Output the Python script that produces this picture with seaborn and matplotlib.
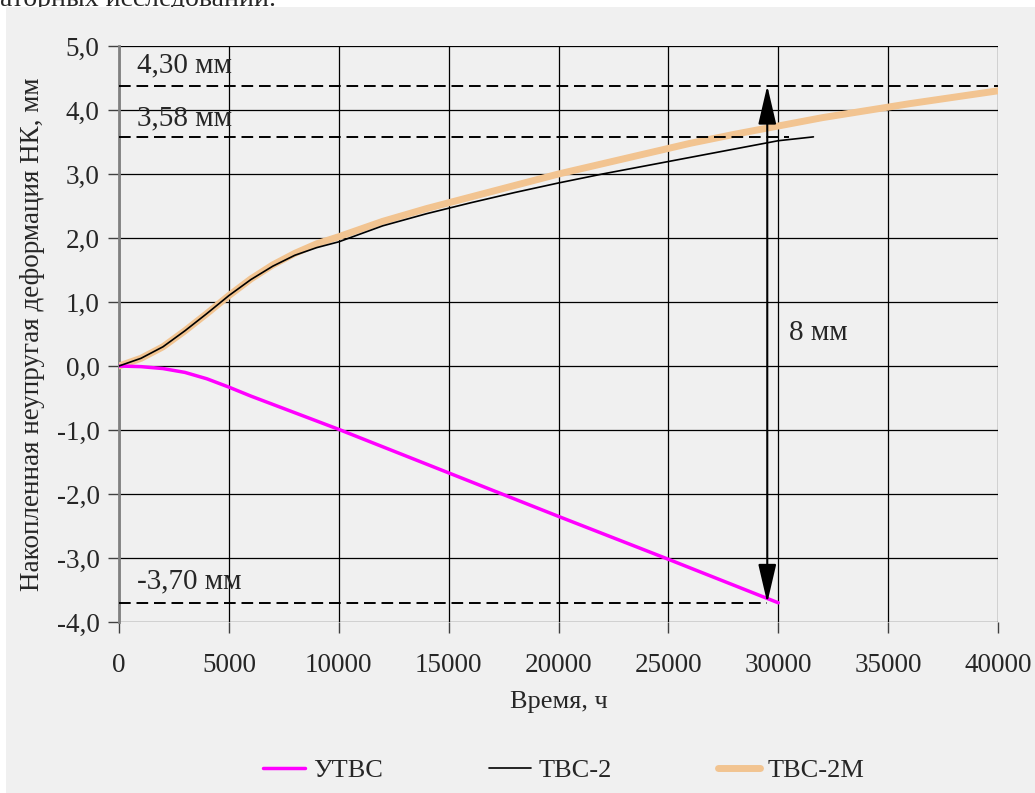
import matplotlib
matplotlib.use("Agg")
import matplotlib.pyplot as plt
import matplotlib.patches as mpatches
import matplotlib.ticker as mticker
import pandas as pd
import seaborn as sns

# ТВС-2М
t_2m = [0, 1000, 2000, 3000, 4000, 5000, 6000, 7000, 8000, 9000, 10000, 12000, 14000,
        16000, 18000, 20000, 22000, 24000, 26000, 28000, 30000, 32000, 34000, 36000,
        38000, 40000]
d_2m = [0, 0.12, 0.30, 0.55, 0.82, 1.10, 1.36, 1.58, 1.76, 1.91, 2.02, 2.26, 2.46,
        2.64, 2.82, 3.00, 3.16, 3.32, 3.48, 3.62, 3.75, 3.88, 3.99, 4.10, 4.20, 4.30]

# ТВС-2
t_2 = [0, 1000, 2000, 3000, 4000, 5000, 6000, 7000, 8000, 9000, 10000, 12000, 14000,
       16000, 18000, 20000, 22000, 24000, 26000, 28000, 30000, 31600]
d_2 = [0, 0.12, 0.30, 0.55, 0.82, 1.10, 1.35, 1.56, 1.73, 1.85, 1.94, 2.19, 2.38,
       2.55, 2.71, 2.86, 3.00, 3.13, 3.26, 3.39, 3.52, 3.58]

# УТВС
t_u = [0, 1000, 2000, 3000, 4000, 5000, 6000, 8000, 10000, 15000, 20000, 25000, 30000]
d_u = [0, -0.01, -0.04, -0.10, -0.20, -0.33, -0.47, -0.73, -0.99, -1.67, -2.35, -3.02, -3.70]

levels = [4.38, 3.58, -3.70]
level_ends = [40000, 30500, 29500]
level_labels = ["4,30 мм", "3,58 мм", "-3,70 мм"]
label_y = [4.69, 3.87, -3.36]

sns.set_theme(style="white")
plt.rcParams["font.family"] = ["Liberation Serif", "DejaVu Serif"]

fig = plt.figure(figsize=(10.35, 7.93), dpi=100)
fig.patch.set_facecolor("white")
fig.patches.append(mpatches.Rectangle((6 / 1035, 0), 1, 1 - 7 / 793,
                                      transform=fig.transFigure, facecolor="#f0f0f0",
                                      edgecolor="none", zorder=-5))
fig.text(0.0, 1.0, "аторных исследований.", fontsize=20, va="center", ha="left", zorder=-6)

ax = fig.add_axes([119 / 1035, 1 - 622 / 793, 879 / 1035, 576 / 793])
ax.set_facecolor("#f0f0f0")

df_u = pd.DataFrame({"t": t_u, "d": d_u})
df_2 = pd.DataFrame({"t": t_2, "d": d_2})
df_2m = pd.DataFrame({"t": t_2m, "d": d_2m})

sns.lineplot(data=df_u, x="t", y="d", ax=ax, color="#ff00ff", lw=2.5, label="УТВС", zorder=4)
sns.lineplot(data=df_2m, x="t", y="d", ax=ax, color="#f2c491", lw=5, label="ТВС-2М", zorder=3)
sns.lineplot(data=df_2, x="t", y="d", ax=ax, color="black", lw=1.2, label="ТВС-2", zorder=5)

for lv, end, txt, ly in zip(levels, level_ends, level_labels, label_y):
    ax.plot([0, end], [lv, lv], color="black", lw=1.4, ls=(0, (6, 3)), zorder=6)
    ax.text(820, ly, txt, fontsize=21, va="center", ha="left")

ax.annotate("", xy=(29500, 4.38), xytext=(29500, -3.70),
            arrowprops=dict(arrowstyle="<|-|>,head_length=1.2,head_width=0.28",
                            color="black", lw=1.5, mutation_scale=20, shrinkA=0, shrinkB=0),
            zorder=7)
ax.text(30500, 0.52, "8 мм", fontsize=21, va="center", ha="left")

ax.set_xlim(0, 40000)
ax.set_ylim(-4, 5)
ax.xaxis.set_major_locator(mticker.MultipleLocator(5000))
ax.yaxis.set_major_locator(mticker.MultipleLocator(1))
ax.yaxis.set_major_formatter(mticker.FuncFormatter(lambda v, p: f"{v:.1f}".replace(".", ",")))
ax.grid(True, color="black", lw=0.9)
ax.set_axisbelow(True)
for s in ["top", "right", "bottom"]:
    ax.spines[s].set_visible(False)
ax.spines["left"].set_color("#808080")
ax.spines["left"].set_linewidth(2)
ax.tick_params(axis="both", which="major", labelsize=19.5, direction="out", length=8,
               width=1, color="#404040", pad=6, bottom=True, left=True)
ax.tick_params(axis="x", pad=14)

ax.set_xlabel("Время, ч", fontsize=19, labelpad=10)
ax.set_ylabel("Накопленная неупругая деформация НК, мм", fontsize=19.5, labelpad=8)

handles, labels = ax.get_legend_handles_labels()
order = [labels.index(n) for n in ["УТВС", "ТВС-2", "ТВС-2М"]]
ax.legend([handles[i] for i in order], [labels[i] for i in order],
          loc="center", bbox_to_anchor=(0.545, 0.029), bbox_transform=fig.transFigure,
          ncol=3, frameon=False, fontsize=19, handlelength=1.6, handletextpad=0.3,
          columnspacing=4.0)

fig.savefig("out.png", dpi=100, facecolor=fig.get_facecolor())
